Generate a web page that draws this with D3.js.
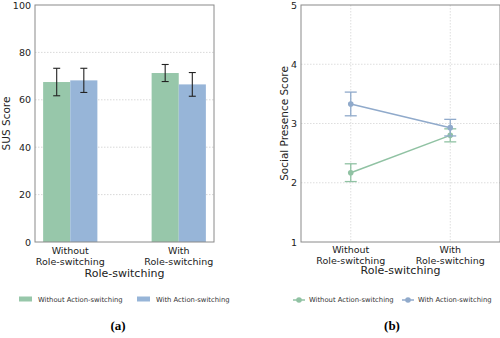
<!DOCTYPE html>
<html>
<head>
<meta charset="utf-8">
<script src="https://cdn.jsdelivr.net/npm/d3@7"></script>
<style>
  body { margin: 0; background: #fff; }
  svg { display: block; font-family: "DejaVu Sans", sans-serif; }
</style>
</head>
<body>
<div id="chart"></div>
<script>
// data
const roleCats = ["Without\nRole-switching", "With\nRole-switching"];
const seriesNames = ["Without Action-switching", "With Action-switching"];
const susMean = [[67.5, 71.3], [68.2, 66.5]];
const susErr = [[5.8, 3.6], [5.1, 5.0]];
const spMean = [[2.17, 2.80], [3.33, 2.93]];
const spErr = [[0.15, 0.11], [0.20, 0.14]];
const susTicks = [0, 20, 40, 60, 80, 100];
const spTicks = [1, 2, 3, 4, 5];

const barFill = ["#97c7aa", "#97b5d8"];
const lineCol = ["#90c2a3", "#90aacb"];
const spineCol = "#8a8a8a";

const svg = d3.select("#chart").append("svg")
  .attr("width", 500).attr("height", 338);

function frame(g, x0, x1, y0, y1) {
  g.append("rect")
    .attr("x", x0).attr("y", y0)
    .attr("width", x1 - x0).attr("height", y1 - y0)
    .attr("fill", "none").attr("stroke", spineCol).attr("stroke-width", 1);
}

function catLabels(g, xs, y) {
  roleCats.forEach((c, i) => {
    const t = g.append("text")
      .attr("x", xs(i)).attr("y", y)
      .attr("text-anchor", "middle")
      .style("font-size", "9.5px").attr("fill", "#222");
    c.split("\n").forEach((ln, j) => {
      t.append("tspan").attr("x", xs(i)).attr("dy", j ? 10.5 : 0).text(ln);
    });
  });
}

// ---------- panel (a): bars ----------
{
  const L = 35, R = 214, T = 5, B = 242;
  const g = svg.append("g");
  const x = d3.scaleLinear().domain([-0.325, 1.325]).range([L, R]);
  const y = d3.scaleLinear().domain([0, 100]).range([B, T]);
  const bw = 0.25;

  g.selectAll(".grid").data(susTicks.slice(1, -1)).join("line")
    .attr("x1", L).attr("x2", R)
    .attr("y1", d => y(d)).attr("y2", d => y(d))
    .attr("stroke", "#c8c8c8").attr("stroke-width", 0.7)
    .attr("stroke-dasharray", "1.5,1.5");

  seriesNames.forEach((s, si) => {
    const off = si === 0 ? -bw : 0;
    g.selectAll(".bar" + si).data(susMean[si]).join("rect")
      .attr("x", (d, i) => x(i + off))
      .attr("width", x(bw) - x(0))
      .attr("y", d => y(d))
      .attr("height", d => y(0) - y(d))
      .attr("fill", barFill[si]);
  });

  seriesNames.forEach((s, si) => {
    const off = si === 0 ? -bw / 2 : bw / 2;
    susMean[si].forEach((m, i) => {
      const cx = x(i + off), e = susErr[si][i];
      g.append("line").attr("x1", cx).attr("x2", cx)
        .attr("y1", y(m + e)).attr("y2", y(m - e))
        .attr("stroke", "#222").attr("stroke-width", 1.1);
      [m + e, m - e].forEach(v => {
        g.append("line").attr("x1", cx - 3.5).attr("x2", cx + 3.5)
          .attr("y1", y(v)).attr("y2", y(v))
          .attr("stroke", "#222").attr("stroke-width", 1.1);
      });
    });
  });

  frame(g, L, R, T, B);

  g.selectAll(".yt").data(susTicks).join("text")
    .attr("x", L - 4).attr("y", d => y(d) + 3.5)
    .attr("text-anchor", "end").style("font-size", "9.5px").attr("fill", "#222")
    .text(d => d);

  catLabels(g, i => x(i), 254);

  g.append("text").attr("x", x(0.5)).attr("y", 277)
    .attr("text-anchor", "middle").style("font-size", "11px").attr("fill", "#222")
    .text("Role-switching");

  g.append("text")
    .attr("transform", `translate(10,${(T + B) / 2}) rotate(-90)`)
    .attr("text-anchor", "middle").style("font-size", "10.5px").attr("fill", "#222")
    .text("SUS Score");

  const legX = [19, 137];
  seriesNames.forEach((s, si) => {
    g.append("rect").attr("x", legX[si]).attr("y", 296.5)
      .attr("width", 13).attr("height", 5).attr("fill", barFill[si]);
    g.append("text").attr("x", legX[si] + 19).attr("y", 301.5)
      .style("font-size", "6.8px").attr("fill", "#333").text(s);
  });

  g.append("text").attr("x", 118).attr("y", 330)
    .attr("text-anchor", "middle")
    .style("font-family", "'Liberation Serif', serif")
    .style("font-weight", "bold").style("font-size", "13px")
    .text("(a)");
}

// ---------- panel (b): lines ----------
{
  const L = 301, R = 500, T = 5, B = 242;
  const g = svg.append("g");
  const x = d3.scaleLinear().domain([-0.5, 1.5]).range([L, R]);
  const y = d3.scaleLinear().domain([1, 5]).range([B, T]);

  g.selectAll(".hg").data(spTicks.slice(1, -1)).join("line")
    .attr("x1", L).attr("x2", R)
    .attr("y1", d => y(d)).attr("y2", d => y(d))
    .attr("stroke", "#d0d0d0").attr("stroke-width", 0.7)
    .attr("stroke-dasharray", "1.5,1.5");
  g.selectAll(".vg").data([0, 1]).join("line")
    .attr("x1", d => x(d)).attr("x2", d => x(d))
    .attr("y1", T).attr("y2", B)
    .attr("stroke", "#d0d0d0").attr("stroke-width", 0.7)
    .attr("stroke-dasharray", "1.5,1.5");

  const line = d3.line().x((d, i) => x(i)).y(d => y(d));

  seriesNames.forEach((s, si) => {
    g.append("path").datum(spMean[si])
      .attr("d", line).attr("fill", "none")
      .attr("stroke", lineCol[si]).attr("stroke-width", 1.5);
    spMean[si].forEach((m, i) => {
      const cx = x(i), e = spErr[si][i];
      g.append("line").attr("x1", cx).attr("x2", cx)
        .attr("y1", y(m + e)).attr("y2", y(m - e))
        .attr("stroke", lineCol[si]).attr("stroke-width", 1.3);
      [m + e, m - e].forEach(v => {
        g.append("line").attr("x1", cx - 6).attr("x2", cx + 6)
          .attr("y1", y(v)).attr("y2", y(v))
          .attr("stroke", lineCol[si]).attr("stroke-width", 1.3);
      });
      g.append("circle").attr("cx", cx).attr("cy", y(m)).attr("r", 2.8)
        .attr("fill", lineCol[si]);
    });
  });

  frame(g, L, R, T, B);

  g.selectAll(".yt").data(spTicks).join("text")
    .attr("x", L - 4).attr("y", d => y(d) + 3.5)
    .attr("text-anchor", "end").style("font-size", "9.5px").attr("fill", "#222")
    .text(d => d);

  catLabels(g, i => x(i), 253);

  g.append("text").attr("x", x(0.5)).attr("y", 274)
    .attr("text-anchor", "middle").style("font-size", "11px").attr("fill", "#222")
    .text("Role-switching");

  g.append("text")
    .attr("transform", `translate(288,${(T + B) / 2}) rotate(-90)`)
    .attr("text-anchor", "middle").style("font-size", "10.5px").attr("fill", "#222")
    .text("Social Presence Score");

  const legX = [293, 402];
  seriesNames.forEach((s, si) => {
    g.append("line").attr("x1", legX[si]).attr("x2", legX[si] + 12)
      .attr("y1", 300).attr("y2", 300)
      .attr("stroke", lineCol[si]).attr("stroke-width", 1.5);
    g.append("circle").attr("cx", legX[si] + 6).attr("cy", 300).attr("r", 2.8)
      .attr("fill", lineCol[si]);
    g.append("text").attr("x", legX[si] + 16).attr("y", 302.3)
      .style("font-size", "6.8px").attr("fill", "#333").text(s);
  });

  g.append("text").attr("x", 392).attr("y", 330)
    .attr("text-anchor", "middle")
    .style("font-family", "'Liberation Serif', serif")
    .style("font-weight", "bold").style("font-size", "13px")
    .text("(b)");
}
</script>
</body>
</html>
